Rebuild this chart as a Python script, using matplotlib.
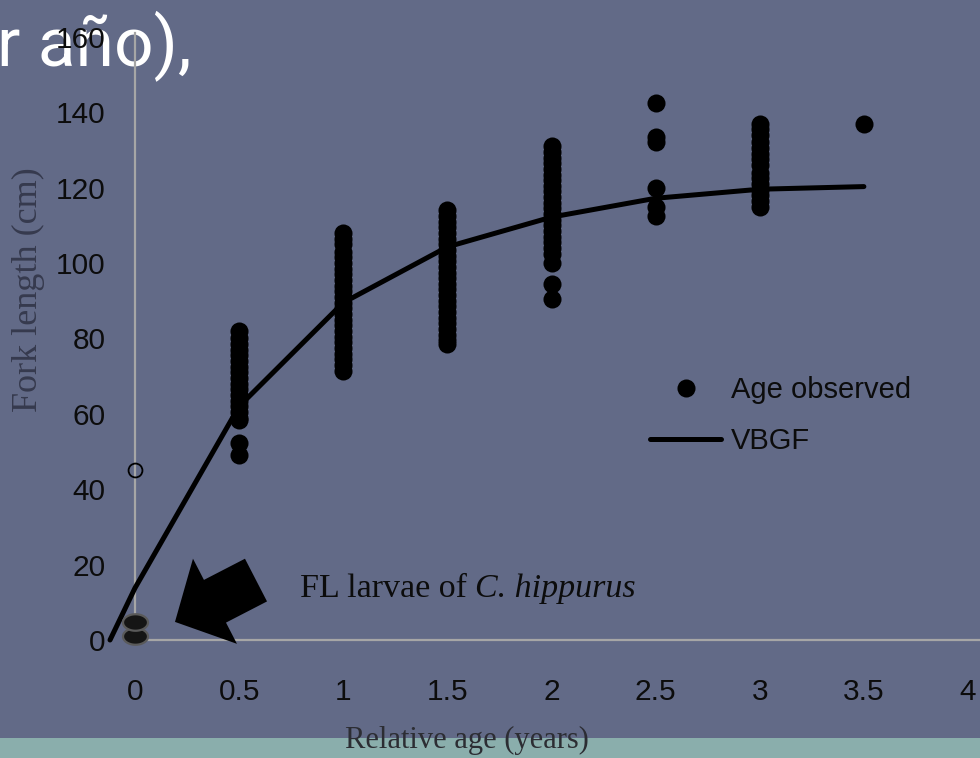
import numpy as np
import matplotlib
matplotlib.use("Agg")
import matplotlib.pyplot as plt
from matplotlib.path import Path

# ---------------- data ----------------
ages_obs = [0.5, 1.0, 1.5, 2.0, 2.5, 3.0, 3.5]
fl_05 = [82, 80, 78.5, 77, 75.5, 74, 72.5, 71, 69.5, 68, 66.5, 65, 63.5, 62,
         60.5, 59, 58.5, 52.3, 49]
fl_10 = [108, 106.5, 105, 103, 101.5, 100, 98.5, 97, 95.5, 94, 92.5, 91, 89.5,
         88, 86.5, 85, 83.5, 82, 80.5, 79, 77.5, 76, 74.5, 73, 71.5]
fl_15 = [114, 112.5, 111, 109.5, 108, 106.5, 105, 103.5, 102, 100.5, 99, 97.5,
         96, 94.5, 93, 91.5, 90, 88.5, 87, 85.5, 84, 82.5, 81, 79.5, 78.5]
fl_20 = [131, 129.5, 128, 126.5, 125, 123.5, 122, 120.5, 119, 117.5, 116,
         114.5, 113, 111.5, 110, 108.5, 107, 105.5, 104, 102.5, 100, 94.5, 90.5]
fl_25 = [142.5, 133.5, 132, 120, 115, 112.5]
fl_30 = [137, 135.5, 134, 132, 130.5, 129, 127.5, 126, 124, 122.5, 121,
         119.5, 118, 116.5, 115]
fl_35 = [137]
fl_groups = [fl_05, fl_10, fl_15, fl_20, fl_25, fl_30, fl_35]

larvae_age = [0, 0]
larvae_fl = [1.0, 4.8]
open_age = [0]
open_fl = [45]

vbgf_age = [-0.12, 0, 0.5, 1.0, 1.5, 2.0, 2.5, 3.0, 3.5]
vbgf_fl = [0, 13.8, 62, 89.5, 104.3, 112.2, 117.2, 119.6, 120.3]

x_ticks = [0, 0.5, 1, 1.5, 2, 2.5, 3, 3.5, 4]
x_ticklabels = ["0", "0.5", "1", "1.5", "2", "2.5", "3", "3.5", "4"]
y_ticks = [0, 20, 40, 60, 80, 100, 120, 140, 160]

# ---------------- style ----------------
BG = "#626a87"
TEAL = "#8aaeac"
AXIS = "#a6a6a6"
INK = "#0c0c0c"

W, H = 980, 758
fig = plt.figure(figsize=(W / 100, H / 100), dpi=100, facecolor=BG)

# bottom teal band (behind everything)
fig.patches.append(plt.Rectangle((0, 0), 1, 20 / H, transform=fig.transFigure,
                                 facecolor=TEAL, edgecolor="none", zorder=-2))
# partial slide title (behind axes)
fig.text(192 / W, 1 - 65 / H, "r año),", color="white", fontsize=50,
         family=["Roboto", "DejaVu Sans"], ha="right", va="baseline", zorder=-1)

ax = fig.add_axes([135 / W, (H - 640) / H, (W - 135) / W, (640 - 33) / H])
ax.set_facecolor("none")
ax.set_xlim(0, 845 / 208.25)
ax.set_ylim(0, 607 / 3.769)

for s in ["top", "right"]:
    ax.spines[s].set_visible(False)
for s in ["left", "bottom"]:
    ax.spines[s].set_color(AXIS)
    ax.spines[s].set_linewidth(1.6)

ax.set_xticks(x_ticks)
ax.set_xticklabels(x_ticklabels)
ax.set_yticks(y_ticks)
ax.tick_params(axis="both", length=0, colors=INK, labelsize=21.5)
ax.tick_params(axis="y", pad=21)
ax.tick_params(axis="x", pad=27)
for lab in ax.get_xticklabels() + ax.get_yticklabels():
    lab.set_family("Liberation Sans")

# VBGF curve
vb_line, = ax.plot(vbgf_age, vbgf_fl, color="black", lw=3.6,
                   solid_capstyle="round", solid_joinstyle="round",
                   clip_on=False, zorder=3, label="VBGF")

# observed ages
xs = np.concatenate([[a] * len(g) for a, g in zip(ages_obs, fl_groups)])
ys = np.concatenate(fl_groups)
obs, = ax.plot(xs, ys, "o", color="black", ms=13, mew=0, ls="none",
               clip_on=False, zorder=4, label="Age observed")

# larvae (flattened disks)
t = np.linspace(0, 2 * np.pi, 60)
ell = Path(np.column_stack([np.cos(t), 0.66 * np.sin(t)]), closed=True)
ax.plot(larvae_age, larvae_fl, ls="none", marker=ell, ms=18, mfc="#151515",
        mec="#5a5a5a", mew=1.6, clip_on=False, zorder=5)
ax.plot(open_age, open_fl, ls="none", marker="o", ms=10, mfc="none",
        mec="black", mew=1.3, clip_on=False, zorder=5)

# arrow + annotation
ax.annotate("", xy=(0.192, 4.8), xytext=(0.581, 15.9),
            arrowprops=dict(arrowstyle="simple,head_length=32.4,head_width=69,tail_width=34.6",
                            mutation_scale=1, facecolor="black", edgecolor="none",
                            shrinkA=0, shrinkB=0),
            annotation_clip=False, zorder=6)
t1 = ax.text(0.792, 11.4, "FL larvae of ", family="Liberation Serif",
             fontsize=24.5, color=INK, ha="left", va="baseline")
ax.annotate("C. hippurus", xy=(1, 0), xycoords=t1, va="bottom", ha="left",
            family="Liberation Serif", style="italic", fontsize=24.5, color=INK)

# axis labels
ax.set_ylabel("Fork length (cm)", family="Liberation Serif", fontsize=26,
              color="#363a4e")
ax.yaxis.set_label_coords((28 - 135) / 845, (640 - 290) / 607)
ax.yaxis.label.set_va("center")
ax.set_xlabel("Relative age (years)", family="Liberation Serif", fontsize=22,
              color="#2c2d33")
ax.xaxis.set_label_coords((467 - 135) / 845, (640 - 740) / 607)
ax.xaxis.label.set_va("center")

# legend
leg = ax.legend(handles=[obs, vb_line], labels=["Age observed", "VBGF"],
                loc="upper left", bbox_to_anchor=(650 / W, 1 - 376 / H),
                bbox_transform=fig.transFigure, frameon=False, borderpad=0,
                borderaxespad=0, handlelength=2.45, handletextpad=0.32,
                labelspacing=0.78, numpoints=1,
                prop={"family": "Liberation Sans", "size": 21})
for txt in leg.get_texts():
    txt.set_color(INK)

fig.savefig("out.png", dpi=100, facecolor=BG)
